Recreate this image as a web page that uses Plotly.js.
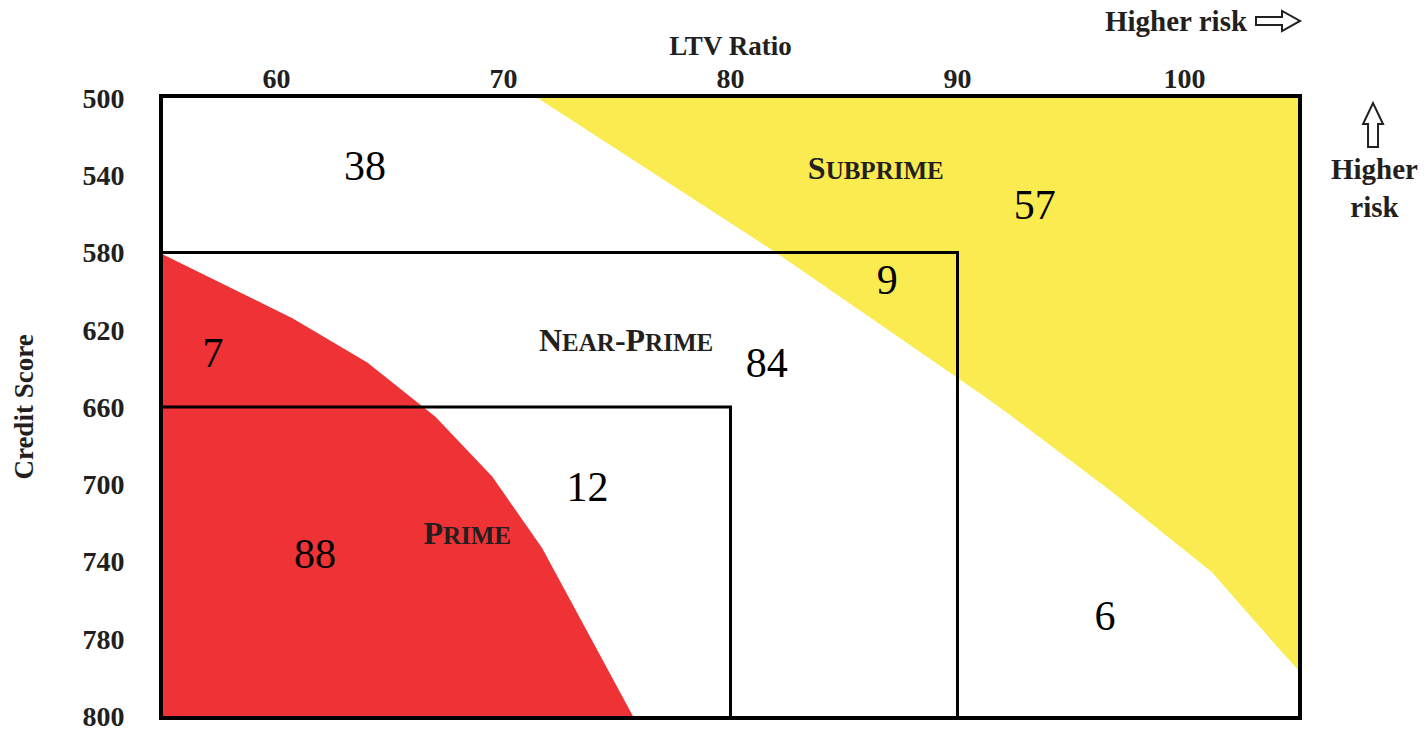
<!DOCTYPE html>
<html><head><meta charset="utf-8">
<script src="https://cdn.plot.ly/plotly-3.0.1.min.js"></script>
<style>html,body{margin:0;padding:0;background:#fff;}#chart{width:1428px;height:731px;}</style>
</head><body><div id="chart"></div>
<script>
// Axis ticks
const ltvTicks = [60, 70, 80, 90, 100];
const scoreTickVals = [500, 540, 580, 620, 660, 700, 740, 780, 820];
const scoreTickText = ['500', '540', '580', '620', '660', '700', '740', '780', '800'];

// Tier boxes (max LTV, min credit score)
const tierNames = ['Prime', 'Near-Prime', 'Subprime'];
const tierLtvMax = [80, 90, 105];
const tierScoreMin = [660, 580, 500];
const ltvMin = 55, scoreMax = 820;

// Red region boundary (prime-like loans)
const redLtv = [55, 60.7, 64.0, 67.0, 69.5, 71.7, 75.7, 55];
const redScore = [581, 614, 637, 665, 696, 733, 820, 820];

// Yellow region boundary (subprime-like loans)
const yellowLtv = [71.5, 82.0, 91.0, 92.3, 96.7, 101.2, 104.3, 105, 105];
const yellowScore = [500, 580, 653, 664, 703, 745.5, 787, 796, 500];

// Cell percentages
const cellValues = ['38', '57', '9', '7', '84', '12', '88', '6'];
const cellLtv = [63.9, 93.4, 86.9, 57.2, 81.6, 73.7, 61.7, 96.5];
const cellScore = [537, 557, 596, 634, 639, 703, 738, 770];

// Region labels
const regionLabels = ['S<span style="font-size:25px">UBPRIME</span>', 'N<span style="font-size:25px">EAR</span>-P<span style="font-size:25px">RIME</span>', 'P<span style="font-size:25px">RIME</span>'];
const regionLtv = [86.4, 75.4, 68.4];
const regionScore = [538, 627, 727];

const traces = [];
traces.push({x: redLtv, y: redScore, type: 'scatter', mode: 'lines', fill: 'toself',
  fillcolor: '#ee3235', line: {width: 0, color: '#ee3235'}, hoverinfo: 'skip', showlegend: false});
traces.push({x: yellowLtv, y: yellowScore, type: 'scatter', mode: 'lines', fill: 'toself',
  fillcolor: '#f9eb50', line: {width: 0, color: '#f9eb50'}, hoverinfo: 'skip', showlegend: false});
for (let i = 0; i < 2; i++) {
  traces.push({x: [ltvMin, tierLtvMax[i], tierLtvMax[i]], y: [tierScoreMin[i], tierScoreMin[i], scoreMax],
    type: 'scatter', mode: 'lines', line: {color: '#000', width: 3}, name: tierNames[i], showlegend: false, hoverinfo: 'skip'});
}
traces.push({x: cellLtv, y: cellScore, text: cellValues, type: 'scatter', mode: 'text',
  textfont: {family: 'Liberation Serif', size: 42, color: '#000'}, textposition: 'middle center', showlegend: false, hoverinfo: 'skip'});
traces.push({x: regionLtv, y: regionScore, text: regionLabels, type: 'scatter', mode: 'text',
  textfont: {family: 'Liberation Serif', size: 32, color: '#231f20', weight: 'bold'}, textposition: 'middle center', showlegend: false, hoverinfo: 'skip'});

const boldFont = {family: 'Liberation Serif', size: 27, color: '#231f20', weight: 'bold'};
const tickFont = {family: 'Liberation Serif', size: 28, color: '#231f20', weight: 'bold'};
const riskFont = {family: 'Liberation Serif', size: 29, color: '#231f20', weight: 'bold'};

// pixel -> paper helpers for the decorative arrows outside the plot area
const PL = 163, PW = 1135, PT = 98, PH = 618;
const px = v => ((v - PL) / PW).toFixed(4);
const py = v => ((PT + PH - v) / PH).toFixed(4);
function pathOf(pts) { return 'M' + pts.map(p => px(p[0]) + ',' + py(p[1])).join(' L') + ' Z'; }
const rightArrow = pathOf([[1256,17],[1282,17],[1282,11],[1300,21],[1282,31],[1282,25],[1256,25]]);
const upArrow = pathOf([[1368,147],[1368,124],[1363,124],[1373,103],[1383,124],[1378,124],[1378,147]]);

const layout = {
  width: 1428, height: 731,
  margin: {l: 163, r: 130, t: 98, b: 15},
  paper_bgcolor: '#fff', plot_bgcolor: '#fff',
  showlegend: false,
  xaxis: {range: [ltvMin, 105], side: 'top', tickvals: ltvTicks, ticktext: ltvTicks.map(String),
    showgrid: false, zeroline: false, showline: true, mirror: true, linecolor: '#000', linewidth: 4,
    ticks: '', tickfont: tickFont, ticklabelstandoff: -5, ticklabeloverflow: 'allow',
    title: {text: 'LTV Ratio', font: boldFont, standoff: 0}},
  yaxis: {range: [scoreMax, 500], tickvals: scoreTickVals, ticktext: scoreTickText,
    showgrid: false, zeroline: false, showline: true, mirror: true, linecolor: '#000', linewidth: 4,
    ticks: '', tickfont: tickFont, ticklabelstandoff: 29, ticklabeloverflow: 'allow',
    title: {text: 'Credit Score', font: boldFont, standoff: 42}},
  shapes: [
    {type: 'path', xref: 'paper', yref: 'paper', path: rightArrow, line: {color: '#231f20', width: 2}, fillcolor: '#fff'},
    {type: 'path', xref: 'paper', yref: 'paper', path: upArrow, line: {color: '#231f20', width: 2}, fillcolor: '#fff'}
  ],
  annotations: [
    {xref: 'paper', yref: 'paper', x: px(1250), y: py(21), xanchor: 'right', yanchor: 'middle',
     text: 'Higher risk', showarrow: false, font: riskFont},
    {xref: 'paper', yref: 'paper', x: px(1374), y: py(188), xanchor: 'center', yanchor: 'middle',
     text: 'Higher<br>risk', showarrow: false, font: riskFont}
  ]
};

Plotly.newPlot('chart', traces, layout, {displayModeBar: false, staticPlot: true});
</script></body></html>
